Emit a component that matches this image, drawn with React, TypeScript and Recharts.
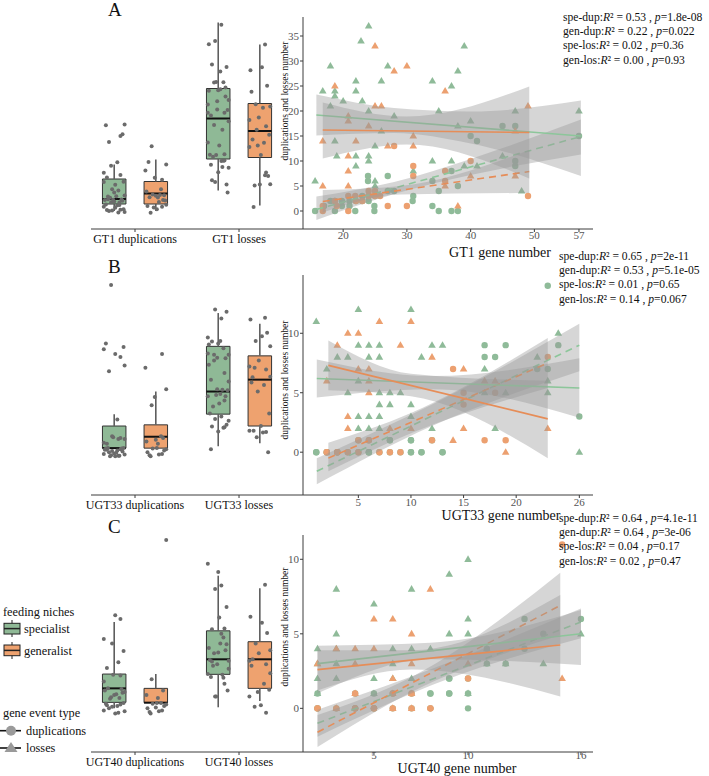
import React from "react";
import {
  ComposedChart,
  Scatter,
  Area,
  Line,
  XAxis,
  YAxis,
  ReferenceArea,
  ReferenceLine,
} from "recharts";

type Pt = [number, number];
type Band = [number, number, number]; // x, low, high
type Box = [number, number, number, number, number]; // min, q1, median, q3, max

const FONT = '"Liberation Serif", "Times New Roman", serif';
const GREEN = "#8fbb99";
const ORANGE = "#eca070";
const GREEN_BOX = "#8fb996";
const ORANGE_BOX = "#eea26f";
const GREEN_LINE = "#8cc69a";
const ORANGE_LINE = "#e68d58";
const AXIS = "#3c3c3c";

// ---------- panel A (GT1) ----------
const A_SPE_DUP: Pt[] = [[15.6,0],[18.7,0],[21.9,0],[24.9,0],[24.9,1],[34,1],[35,0],[37,0],[38,0],[19.8,1],[17,1],[18,2],[18.7,2],[19.8,2],[21,2],[22,2],[23,2],[23,3],[24,2],[24,3],[25,3],[30.9,2],[23.9,6],[23.9,7],[27,7],[27,4],[28,4],[34,6],[37,8],[38,5],[40,15],[41,14],[45,17],[47,17],[47,10],[47,9],[57,15],[31,3],[35,4],[21,1]];
const A_GEN_DUP: Pt[] = [[16.8,0],[16.8,1],[20.8,0],[27,1],[30,1],[18.7,2],[20.8,3],[21.9,3],[24,3],[25,3],[24,4],[25,4],[25.8,3],[22,2],[28,13],[31,9],[31,7],[36,8],[36,6],[40,10],[49,3],[19,1],[23,2]];
const A_SPE_LOS: Pt[] = [[24,37],[22.8,34],[18,29],[27,29],[16.8,24],[22,26],[22,24],[18.7,24],[18.7,23],[26,26],[20,22],[23,22],[18,21],[24,20],[28,19],[26,16],[34,26],[35,20],[18.7,14],[25,13],[19,11],[22,11],[22,9],[24,11],[24,10],[25,6],[25,5],[15.6,6],[31,8],[34,10],[39,33],[38,28],[37,25],[38,17],[40,18],[47,20],[57,20],[37,10],[39,9],[41,9],[45,11],[48,4]];
const A_GEN_LOS: Pt[] = [[25,33],[28,28],[30,29],[18.7,25],[25,21],[26,21],[20.8,19],[20.8,18],[24,17],[16.8,14],[22,14],[27,13],[31,15],[31,13],[20.8,11],[20.8,8],[16.8,5],[20.8,5],[36,24],[49,21],[47,16],[40,7],[38,1],[36,5],[47,7]];
const A_BOXES: Box[] = [[0,1.4,2.4,6.4,9.3],[0,1.4,3.5,5.9,10.3],[4.1,10.4,18.5,24.5,37.7],[1.1,10.7,16,21.5,33.3]];
const A_BANDS: Band[][] = [
  [[15.8,-1.8,2.9],[28,3.4,5.8],[40,7.2,10.4],[57.3,11.3,18.3]],
  [[16.8,-0.3,4.2],[29,3.3,5.0],[49.2,3.6,12.2]],
  [[15.8,15.1,23.3],[28,15.6,20.6],[40,13.5,19.9],[57.3,7,22.1]],
  [[16.8,10.5,21.7],[30,13.3,18.9],[49.2,6.5,24.9]],
];
const A_LINES: Pt[][] = [
  [[15.8,0.3],[57.3,14.9]],
  [[16.8,1.9],[49.2,7.9]],
  [[15.8,19.2],[57.3,15]],
  [[16.8,16.2],[49.2,15.7]],
];
const A_STATS = [["spe-dup","0.53","1.8e-08"],["gen-dup","0.22","0.022"],["spe-los","0.02","0.36"],["gen-los","0.00","0.93"]];

// ---------- panel B (UGT33) ----------
const B_SPE_DUP: Pt[] = [[1,0],[1,0],[6,0],[6,0],[6,0],[10,0],[10,0],[11,0],[11,0],[13,0],[13,0],[2,0],[3,0],[4,0],[5,0],[7,0],[8,0],[9,0],[2,0],[3,0],[8,1],[10,1],[10,1],[5,1],[6,1],[12,1],[8,1],[17,9],[19,9],[17,8],[18,8],[22,7],[23,7],[24,9],[26,3],[23,14]];
const B_GEN_DUP: Pt[] = [[2,0],[3,0],[4,0],[5,0],[7,0],[8,0],[9,0],[2,0],[3,0],[5,1],[6,1],[12,1],[17,1],[19,1],[15,4],[15,5],[18,5],[14,7],[23,8]];
const B_SPE_LOS: Pt[] = [[1,11],[5,12],[10,12],[5,9],[6,9],[7,9],[12,9],[13,9],[3,8],[4,8],[6,8],[7,8],[11,8],[2,7],[5,6],[4,5],[7,5],[8,5],[9,5],[7,4],[8,4],[10,4],[5,3],[6,3],[7,3],[10,3],[5,2],[6,2],[7,2],[12,2],[17,7],[17,5],[19,5],[22,8],[23,6],[23,5],[24,10],[18,2],[26,0]];
const B_GEN_LOS: Pt[] = [[7,11],[10,11],[4,10],[5,10],[3,9],[9,9],[12,8],[5,7],[6,7],[2,6],[6,6],[6,5],[4,3],[4,2],[8,2],[10,2],[15,7],[17,6],[18,6],[15,2],[14,1],[19,0],[23,2]];
const B_BOXES: Box[] = [[0.34,0.34,0.34,2.2,3.2],[0.34,0.34,1.3,2.3,5.1],[0.5,3.2,5.1,8.9,11.7],[0.75,2.2,6.1,8.1,10.8]];
const B_BANDS: Band[][] = [
  [[1.05,-2.7,-0.5],[12,2.2,4.0],[26,6.8,10.8]],
  [[2.15,-1.6,0.8],[10,1.6,3.3],[23,5.4,9.6]],
  [[1.05,4.6,7.8],[12,5.3,6.4],[26,2.9,7.9]],
  [[2.15,5.2,9.4],[10,4.7,6.6],[23,-0.5,6.0]],
];
const B_LINES: Pt[][] = [
  [[1.05,-1.6],[26,9.0]],
  [[2.15,-0.5],[23,7.5]],
  [[1.05,6.2],[26,5.4]],
  [[2.15,7.3],[23,2.8]],
];
const B_STATS = [["spe-dup","0.65","2e-11"],["gen-dup","0.53","5.1e-05"],["spe-los","0.01","0.65"],["gen-los","0.14","0.067"]];

// ---------- panel C (UGT40) ----------
const C_SPE_DUP: Pt[] = [[2,0],[2,0],[3,0],[4,0],[4,0],[5,0],[5,0],[6,0],[7,0],[8,0],[10,0],[2,1],[4,1],[5,1],[6,1],[7,1],[8,1],[8,1],[9,1],[9,1],[10,1],[9,2],[9,2],[10,2],[11,3],[12,3],[11,4],[13,4],[14,5],[13,6],[16,6]];
const C_GEN_DUP: Pt[] = [[2,0],[2,0],[4,0],[4,0],[5,0],[5,0],[8,0],[8,0],[3,0],[6,0],[7,0],[4,1],[6,1],[7,1],[10,2],[15,11]];
const C_SPE_LOS: Pt[] = [[3,8],[7,8],[5,7],[3,5],[9,9],[9,5],[2,4],[6,4],[7,4],[8,4],[3,3],[6,3],[2,2],[3,2],[5,2],[7,2],[2,1],[5,1],[10,10],[10,6],[10,5],[11,3],[12,3],[14,3],[16,5],[10,1],[11,4],[2,3],[3,4],[6,2]];
const C_GEN_LOS: Pt[] = [[8,8],[5,6],[6,6],[7,5],[3,4],[4,4],[5,4],[2,3],[4,3],[7,3],[6,2],[4,1],[6,1],[7,1],[3,0],[6,0],[7,0],[15,2],[10,3]];
const C_BOXES: Box[] = [[0,0.4,1.34,2.3,5.8],[0.38,0.38,0.38,1.34,2.3],[0.07,2.28,3.29,5.2,8.9],[0.5,1.34,3.29,4.47,8.05]];
const C_BANDS: Band[][] = [
  [[2,-1.9,-0.1],[9,2.0,3.1],[16,4.7,6.7]],
  [[2,-2.6,-0.45],[7,1.1,2.1],[14.9,4.9,9.1]],
  [[2,1.0,4.2],[8,3.3,4.4],[16,2.9,6.6]],
  [[2,1.2,3.9],[7,2.6,3.9],[14.9,0.8,7.6]],
];
const C_LINES: Pt[][] = [
  [[2,-1.0],[16,5.8]],
  [[2,-1.6],[14.9,6.9]],
  [[2,3.0],[16,5.0]],
  [[2,2.6],[14.9,4.25]],
];
const C_STATS = [["spe-dup","0.64","4.1e-11"],["gen-dup","0.64","3e-06"],["spe-los","0.04","0.17"],["gen-los","0.02","0.47"]];

// fixed jitter offsets for the box plot dots (layout only)
const JIT_X = [-0.07,0.04,-0.02,0.09,-0.1,0.01,0.06,-0.05,0.1,-0.08,0.03,-0.03,0.08,-0.06,0,0.05,-0.09,0.02,0.07,-0.04,0.1,-0.01,-0.1,0.06];
const JIT_Y = [0.2,-0.3,0.1,0.35,-0.15,-0.35,0.25,0,-0.2,0.3,0.15,-0.25,0.05,0.35,-0.1,-0.3,0.2,-0.05,0.3,-0.35,0.1,0.25,-0.2];

const dotShape = (fill: string, r = 3.2) => (p: any) =>
  <circle cx={p.cx} cy={p.cy} r={r} fill={fill} />;
const triShape = (fill: string) => (p: any) => (
  <polygon
    points={`${p.cx},${p.cy - 4} ${p.cx - 3.8},${p.cy + 2.6} ${p.cx + 3.8},${p.cy + 2.6}`}
    fill={fill}
  />
);
const toXY = (a: Pt[]) => a.map(([x, y]) => ({ x, y }));

function fitRows(bands: Band[][], lines: Pt[][]) {
  const m = new Map<number, any>();
  const at = (x: number) => {
    if (!m.has(x)) m.set(x, { x });
    return m.get(x);
  };
  bands.forEach((b, i) => b.forEach(([x, lo, hi]) => (at(x)["b" + i] = [lo, hi])));
  lines.forEach((l, i) => l.forEach(([x, y]) => (at(x)["l" + i] = y)));
  return [...m.values()].sort((a, b) => a.x - b.x);
}

const FixedText = ({ px, py, rot, size, children }: any) => (
  <text
    x={px}
    y={py}
    fontSize={size}
    fontFamily={FONT}
    fill="#111"
    textAnchor="middle"
    dominantBaseline="central"
    transform={rot ? `rotate(-90 ${px} ${py})` : undefined}
  >
    {children}
  </text>
);

interface PanelProps {
  top: number;
  h: number;
  xDomain: [number, number];
  xTicks: number[];
  yDomain: [number, number];
  yTicks: number[];
  cats: string[];
  title: string;
  titleX: number;
  titleDy: number;
  tickMargin: number;
  yTitleY: number;
  pts: Pt[][]; // spe dup, gen dup, spe los, gen los
  boxes: Box[];
  bands: Band[][];
  lines: Pt[][];
}

function BoxPanel(p: PanelProps) {
  const centers = [0.8, 1.2, 1.8, 2.2];
  const fills = [GREEN_BOX, ORANGE_BOX, GREEN_BOX, ORANGE_BOX];
  const hw = 0.113;
  const jitter = p.pts.flatMap((g, gi) =>
    g.map(([, v], i) => ({
      x: centers[gi] + JIT_X[(i + gi * 5) % JIT_X.length],
      y: v + JIT_Y[(i + gi * 3) % JIT_Y.length],
    }))
  );
  return (
    <div style={{ position: "absolute", left: 0, top: p.top - 10 }}>
      <ComposedChart width={305} height={p.h + 42} margin={{ top: 10, right: 2, bottom: 0, left: 91 }}>
        <XAxis
          type="number"
          dataKey="x"
          domain={[0.577, 2.615]}
          ticks={[1, 2]}
          allowDataOverflow
          tickFormatter={(v: number) => p.cats[v - 1]}
          height={32}
          tickSize={3}
          tickMargin={2.4}
          tick={{ fontSize: 12, fill: "#111", fontFamily: FONT }}
          axisLine={{ stroke: AXIS }}
          tickLine={{ stroke: AXIS }}
        />
        <YAxis type="number" dataKey="y" domain={p.yDomain} allowDataOverflow hide width={0} />
        {p.boxes.map((b, i) => {
          const c = centers[i];
          return (
            <React.Fragment key={i}>
              <ReferenceLine segment={[{ x: c, y: b[3] }, { x: c, y: b[4] }]} stroke="#5e5e5e" strokeWidth={1.6} />
              <ReferenceLine segment={[{ x: c, y: b[0] }, { x: c, y: b[1] }]} stroke="#5e5e5e" strokeWidth={1.6} />
              <ReferenceArea x1={c - hw} x2={c + hw} y1={b[1]} y2={b[3]} fill={fills[i]} fillOpacity={1} stroke="#333" strokeWidth={1} />
              <ReferenceLine segment={[{ x: c - hw, y: b[2] }, { x: c + hw, y: b[2] }]} stroke="#111" strokeWidth={2} />
            </React.Fragment>
          );
        })}
        <Scatter data={jitter} dataKey="y" shape={dotShape("#6b6b6b", 2)} fillOpacity={0.85} isAnimationActive={false} zIndex={900} />
      </ComposedChart>
    </div>
  );
}

function ScatterPanel(p: PanelProps) {
  const rows = fitRows(p.bands, p.lines);
  const lineCol = [GREEN_LINE, ORANGE_LINE, GREEN_LINE, ORANGE_LINE];
  const chartTop = p.top - 10;
  return (
    <div style={{ position: "absolute", left: 250, top: chartTop }}>
      <ComposedChart width={459} height={p.h + 42} data={rows} margin={{ top: 10, right: 116, bottom: 0, left: 0 }}>
        <XAxis
          type="number"
          dataKey="x"
          domain={p.xDomain}
          ticks={p.xTicks}
          allowDataOverflow
          height={32}
          tickSize={3}
          tickMargin={p.tickMargin}
          tick={{ fontSize: 11, fill: "#555", fontFamily: FONT }}
          axisLine={{ stroke: AXIS }}
          tickLine={{ stroke: AXIS }}
          label={<FixedText px={p.titleX - 250} py={p.h + 10 + p.titleDy} size={14}>{p.title}</FixedText>}
        />
        <YAxis
          type="number"
          domain={p.yDomain}
          ticks={p.yTicks}
          allowDataOverflow
          width={53}
          tickSize={3}
          tickMargin={1}
          tick={{ fontSize: 11, fill: "#555", fontFamily: FONT }}
          axisLine={{ stroke: AXIS }}
          tickLine={{ stroke: AXIS }}
          label={<FixedText px={35} py={p.yTitleY - chartTop} rot size={9.5}>duplications and losses number</FixedText>}
        />
        <Scatter data={toXY(p.pts[0])} dataKey="y" shape={dotShape(GREEN)} isAnimationActive={false} zIndex={50} />
        <Scatter data={toXY(p.pts[2])} dataKey="y" shape={triShape(GREEN)} isAnimationActive={false} zIndex={51} />
        <Scatter data={toXY(p.pts[1])} dataKey="y" shape={dotShape(ORANGE)} isAnimationActive={false} zIndex={52} />
        <Scatter data={toXY(p.pts[3])} dataKey="y" shape={triShape(ORANGE)} isAnimationActive={false} zIndex={53} />
        {[0, 1, 2, 3].map((i) => (
          <React.Fragment key={i}>
            <Area
              dataKey={"b" + i}
              type="monotone"
              connectNulls
              stroke="none"
              fill="#999999"
              fillOpacity={0.4}
              dot={false}
              activeDot={false}
              isAnimationActive={false}
              zIndex={100 + i * 2}
            />
            <Line
              dataKey={"l" + i}
              connectNulls
              stroke={lineCol[i]}
              strokeWidth={1.6}
              strokeDasharray={i < 2 ? "7 5" : undefined}
              dot={false}
              activeDot={false}
              isAnimationActive={false}
              zIndex={101 + i * 2}
            />
          </React.Fragment>
        ))}
      </ComposedChart>
    </div>
  );
}

function Stats({ left, top, rows }: { left: number; top: number; rows: string[][] }) {
  return (
    <div style={{ position: "absolute", left, top, fontFamily: FONT, fontSize: 11.6, lineHeight: "14.2px", color: "#111", whiteSpace: "nowrap" }}>
      {rows.map(([n, r, pv]) => (
        <div key={n}>
          {n}:<i>R</i>² = {r} , <i>p</i>={pv}
        </div>
      ))}
    </div>
  );
}

function Legend() {
  const t = { fontFamily: FONT, fontSize: 12.3, fill: "#111", dominantBaseline: "central" as const };
  return (
    <svg width={100} height={160} style={{ position: "absolute", left: 0, top: 600 }}>
      <text x={3} y={11.7} {...t}>feeding niches</text>
      <line x1={12} x2={12} y1={20} y2={37} stroke="#222" strokeWidth={1} />
      <rect x={4} y={23.3} width={16} height={10.7} fill={GREEN_BOX} stroke="#222" strokeWidth={1} />
      <line x1={4} x2={20} y1={28.6} y2={28.6} stroke="#222" strokeWidth={1.5} />
      <text x={24} y={28.5} {...t}>specialist</text>
      <line x1={12} x2={12} y1={42} y2={59} stroke="#222" strokeWidth={1} />
      <rect x={4} y={45} width={16} height={10.7} fill={ORANGE_BOX} stroke="#222" strokeWidth={1} />
      <line x1={4} x2={20} y1={50.4} y2={50.4} stroke="#222" strokeWidth={1.5} />
      <text x={24} y={50.5} {...t}>generalist</text>
      <text x={3} y={112.7} {...t}>gene event type</text>
      <line x1={0} x2={21} y1={130.7} y2={130.7} stroke="#111" strokeWidth={1.6} />
      <circle cx={11} cy={130.7} r={5} fill="#9a9a9a" />
      <text x={26} y={131} {...t}>duplications</text>
      <line x1={0} x2={21} y1={148} y2={148} stroke="#111" strokeWidth={1.6} />
      <polygon points="11,142 4.5,152 17.5,152" fill="#9a9a9a" />
      <text x={26} y={148} {...t}>losses</text>
    </svg>
  );
}

const PANELS: (PanelProps & { letter: string; letterTop: number; stats: string[][]; statsX: number; statsY: number })[] = [
  {
    letter: "A", letterTop: 0, stats: A_STATS, statsX: 563, statsY: 11,
    top: 17, h: 212, xDomain: [13.7, 59.2], xTicks: [20, 30, 40, 50, 57],
    yDomain: [-3.6, 38.8], yTicks: [0, 5, 10, 15, 20, 25, 30, 35],
    cats: ["GT1 duplications", "GT1 losses"], title: "GT1 gene number",
    titleX: 500, titleDy: 23, tickMargin: -1.2, yTitleY: 101,
    pts: [A_SPE_DUP, A_GEN_DUP, A_SPE_LOS, A_GEN_LOS], boxes: A_BOXES, bands: A_BANDS, lines: A_LINES,
  },
  {
    letter: "B", letterTop: 257, stats: B_STATS, statsX: 559, statsY: 250,
    top: 275, h: 220, xDomain: [-0.26, 27.3], xTicks: [5, 10, 15, 20, 26],
    yDomain: [-3.6, 14.9], yTicks: [0, 5, 10],
    cats: ["UGT33 duplications", "UGT33 losses"], title: "UGT33 gene number",
    titleX: 501, titleDy: 20.5, tickMargin: -0.3, yTitleY: 380,
    pts: [B_SPE_DUP, B_GEN_DUP, B_SPE_LOS, B_GEN_LOS], boxes: B_BOXES, bands: B_BANDS, lines: B_LINES,
  },
  {
    letter: "C", letterTop: 517, stats: C_STATS, statsX: 559, statsY: 512,
    top: 535, h: 217, xDomain: [1.23, 16.64], xTicks: [5, 10, 16],
    yDomain: [-2.93, 11.63], yTicks: [0, 5, 10],
    cats: ["UGT40 duplications", "UGT40 losses"], title: "UGT40 gene number",
    titleX: 457, titleDy: 16, tickMargin: -3.6, yTitleY: 627,
    pts: [C_SPE_DUP, C_GEN_DUP, C_SPE_LOS, C_GEN_LOS], boxes: C_BOXES, bands: C_BANDS, lines: C_LINES,
  },
];

export default function App() {
  return (
    <div style={{ position: "absolute", left: 0, top: 0, width: 709, height: 776, background: "#fff", overflow: "hidden", fontFamily: FONT }}>
      {PANELS.map((p) => (
        <React.Fragment key={p.letter}>
          <div style={{ position: "absolute", left: 108, top: p.letterTop, fontFamily: FONT, fontSize: 19, lineHeight: "19px", color: "#111" }}>
            {p.letter}
          </div>
          <BoxPanel {...p} />
          <ScatterPanel {...p} />
          <Stats left={p.statsX} top={p.statsY} rows={p.stats} />
        </React.Fragment>
      ))}
      <Legend />
    </div>
  );
}
